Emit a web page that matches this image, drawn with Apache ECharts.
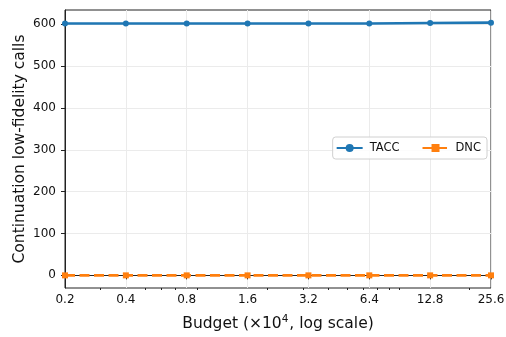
<!DOCTYPE html>
<html>
<head>
<meta charset="utf-8">
<script src="https://cdn.jsdelivr.net/npm/echarts@6/dist/echarts.min.js"></script>
<style>
  html, body { margin: 0; padding: 0; background: #fff; }
  #chart { width: 506px; height: 337px; }
</style>
</head>
<body>
<div id="chart"></div>
<script>
// Budget values (×10^4), doubling each step
const budgets = [0.2, 0.4, 0.8, 1.6, 3.2, 6.4, 12.8, 25.6];
const taccCalls = [602, 602, 602, 602, 602, 602, 603, 604];
const dncCalls = [0, 0, 0, 0, 0, 0, 0, 0];
const xTickLabels = ['0.2', '0.4', '0.8', '1.6', '3.2', '6.4', '12.8', '25.6'];
// Decade minor ticks (2..9 times each power of ten) inside the range
const xMinorTicks = [0.3, 0.5, 0.6, 0.7, 0.9, 2, 3, 4, 5, 6, 7, 8, 9, 20];
const yTicks = [0, 100, 200, 300, 400, 500, 600];

const FONT = 'DejaVu Sans';
const chart = echarts.init(document.getElementById('chart'), null, { renderer: 'canvas' });

const pairs = (ys) => budgets.map((b, i) => [b, ys[i]]);

chart.setOption({
  animation: false,
  backgroundColor: '#fff',
  textStyle: { fontFamily: FONT },
  grid: {
    left: 65, right: 15, top: 10, bottom: 49,
    containLabel: false, outerBoundsMode: 'none',
    show: true, borderColor: '#222', borderWidth: 1, backgroundColor: 'transparent'
  },
  legend: {
    right: 19, top: 137,
    orient: 'horizontal',
    itemWidth: 26, itemHeight: 10, itemGap: 22,
    padding: [5, 6, 5, 3],
    borderColor: '#d0d0d0', borderWidth: 1, borderRadius: 3,
    backgroundColor: 'rgba(255,255,255,0.85)',
    textStyle: { fontFamily: FONT, fontSize: 11.5, color: '#111', padding: [0, 0, 0, 2] },
    data: ['TACC', 'DNC']
  },
  xAxis: [
    {
      type: 'log', logBase: 10, min: 0.2, max: 25.6,
      name: '{n|Budget (×10}{s|4}{n|, log scale)}',
      nameLocation: 'middle', nameGap: 26, nameMoveOverlap: false,
      nameTextStyle: {
        fontFamily: FONT, color: '#111',
        rich: {
          n: { fontFamily: FONT, fontSize: 15.5, color: '#111' },
          s: { fontFamily: FONT, fontSize: 10.5, color: '#111', verticalAlign: 'top', padding: [0, 1, 9, 0] }
        }
      },
      axisLine: { show: true, lineStyle: { color: '#222', width: 1 } },
      axisTick: { show: true, customValues: budgets, length: 4, inside: false, lineStyle: { color: '#222' } },
      axisLabel: {
        show: true, customValues: budgets, fontFamily: FONT, fontSize: 12, color: '#111', margin: 6,
        hideOverlap: false,
        formatter: (v) => xTickLabels[budgets.findIndex(b => Math.abs(b - v) < 1e-6)] || ''
      },
      splitLine: { show: true, lineStyle: { color: '#ebebeb', width: 1 } },
      minorTick: { show: false }
    },
    {
      type: 'log', logBase: 10, min: 0.2, max: 25.6,
      position: 'bottom',
      axisLine: { show: false },
      axisTick: { show: true, customValues: xMinorTicks, length: 2, lineStyle: { color: '#222' } },
      axisLabel: { show: false },
      splitLine: { show: false }
    }
  ],
  yAxis: {
    type: 'value', min: -30.2, max: 634.2,
    name: 'Continuation low-fidelity calls',
    nameLocation: 'middle', nameGap: 37, nameMoveOverlap: false,
    nameTextStyle: { fontFamily: FONT, fontSize: 15.5, color: '#111' },
    axisLine: { show: true, lineStyle: { color: '#222', width: 1 } },
    axisTick: { show: true, customValues: yTicks, length: 4, lineStyle: { color: '#222' } },
    axisLabel: { show: true, customValues: yTicks, fontFamily: FONT, fontSize: 12, color: '#111', margin: 9 },
    splitLine: { show: true, lineStyle: { color: '#ebebeb', width: 1 } }
  },
  series: [
    {
      name: 'TACC', type: 'line', xAxisIndex: 0,
      data: pairs(taccCalls),
      symbol: 'circle', symbolSize: 6,
      lineStyle: { color: '#1f77b4', width: 2.6 },
      itemStyle: { color: '#1f77b4' },
      z: 3
    },
    {
      name: 'DNC', type: 'line', xAxisIndex: 0,
      data: pairs(dncCalls),
      symbol: 'rect', symbolSize: 6,
      lineStyle: { color: '#ff7f0e', width: 2.6, type: [10, 4.5] },
      itemStyle: { color: '#ff7f0e' },
      z: 3
    }
  ]
});
</script>
</body>
</html>
